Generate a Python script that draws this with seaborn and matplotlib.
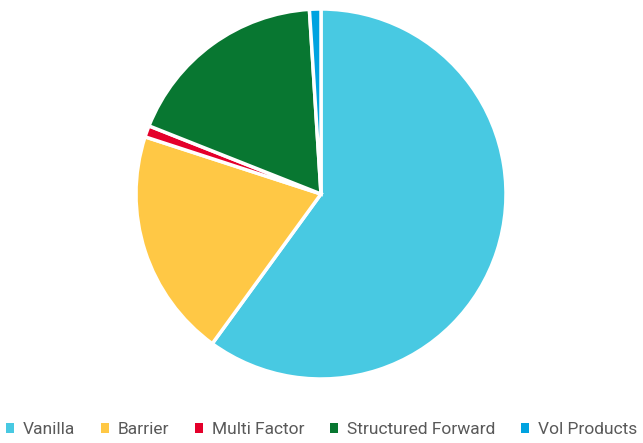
"""
Product mix pie chart (share of trades by product type).
"""

import matplotlib
matplotlib.use("Agg")
import matplotlib.pyplot as plt
from matplotlib.patches import Patch
import seaborn as sns

categories = ["Vanilla", "Barrier", "Multi Factor", "Structured Forward", "Vol Products"]
shares = [60, 20, 1, 18, 1]
colors = ["#48C9E2", "#FFC845", "#E4002B", "#087731", "#00A3E0"]

sns.set_theme(style="white")
plt.rcParams["font.family"] = ["Roboto", "DejaVu Sans"]
palette = sns.color_palette(colors)

fig = plt.figure(figsize=(6.43, 4.43), dpi=100)
ax = fig.add_axes([136 / 643, 64 / 443, 370 / 643, 370 / 443])

ax.pie(
    shares,
    colors=palette,
    startangle=90,
    counterclock=False,
    wedgeprops={"edgecolor": "white", "linewidth": 2.5},
)
ax.set_xlim(-1, 1)
ax.set_ylim(-1, 1)
ax.set_aspect("equal")
ax.axis("off")

handles = [Patch(facecolor=c, edgecolor="none") for c in palette]
fig.legend(
    handles,
    categories,
    loc="lower center",
    bbox_to_anchor=(0.5, -0.01),
    ncol=5,
    frameon=False,
    handlelength=0.5,
    handleheight=0.5,
    handletextpad=0.5,
    columnspacing=1.45,
    borderaxespad=0.2,
    prop={"size": 12.5},
    labelcolor="#595959",
)

fig.savefig("out.png", dpi=100)
plt.close(fig)
